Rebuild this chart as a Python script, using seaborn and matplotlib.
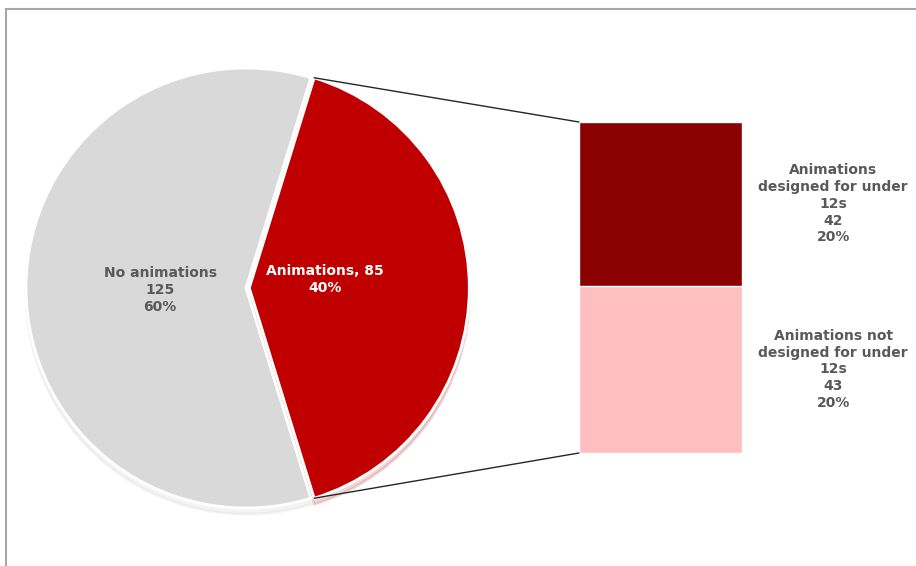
import matplotlib.pyplot as plt
import seaborn as sns
import pandas as pd
import numpy as np
from matplotlib.patches import ConnectionPatch, Rectangle

# pie data
pie_labels = ['No animations', 'Animations']
pie_values = [125, 85]
pie_colors = ['#d9d9d9', '#c00000']

# breakdown of the "Animations" slice
bar_labels = ['Animations\ndesigned for under\n12s', 'Animations not\ndesigned for under\n12s']
bar_values = [42, 43]
bar_colors = ['#8b0000', '#ffbfbf']

total = sum(pie_values)
text_color = '#595959'

sns.set_style('white')
plt.rcParams['font.family'] = ['DejaVu Sans']

W, H = 916, 566
fig = plt.figure(figsize=(W / 100, H / 100), dpi=100)
fig.patch.set_facecolor('white')

def px_box(x0, y0, x1, y1):
    return [x0 / W, 1 - y1 / H, (x1 - x0) / W, (y1 - y0) / H]

# chart frame (runs off right and bottom edge)
fig.add_artist(Rectangle((6 / W, -0.2), 1.2, 1.2 - 9 / H,
                         transform=fig.transFigure, fill=False,
                         edgecolor='#a6a6a6', lw=1.5, clip_on=False))

# ---- pie ----
ax1 = fig.add_axes(px_box(26, 68, 466, 508))
half = pie_values[1] / total * 180
# gray slice starts at the top edge of the red slice, red ends up centred on the right
wedges, _ = ax1.pie(pie_values, colors=pie_colors, startangle=half,
                    counterclock=True, explode=[0, 0.015],
                    wedgeprops=dict(edgecolor='white', linewidth=2),
                    shadow={'ox': 0.0, 'oy': -0.02, 'shade': 0.15, 'alpha': 0.15})
ax1.set_xlim(-1, 1)
ax1.set_ylim(-1, 1)
ax1.set_aspect('equal')

fs = 10
ax1.text(-0.39, -0.01, f'{pie_labels[0]}\n{pie_values[0]}\n{round(pie_values[0] / total * 100)}%',
         ha='center', va='center', fontsize=fs, fontweight='bold', color=text_color,
         linespacing=1.25)
ax1.text(0.36, 0.04, f'{pie_labels[1]}, {pie_values[1]}\n{round(pie_values[1] / total * 100)}%',
         ha='center', va='center', fontsize=fs, fontweight='bold', color='white',
         linespacing=1.25)

# ---- bar of pie ----
ax2 = fig.add_axes(px_box(579, 122, 742, 453))
df = pd.DataFrame({'part': ['x'], 'total': [sum(bar_values)], 'bottom': [bar_values[1]]})
sns.barplot(data=df, x='part', y='total', color=bar_colors[0], width=1,
            saturation=1, ax=ax2, edgecolor='white', linewidth=1)
sns.barplot(data=df, x='part', y='bottom', color=bar_colors[1], width=1,
            saturation=1, ax=ax2, edgecolor='white', linewidth=1)
ax2.set_xlim(-0.5, 0.5)
ax2.set_ylim(0, sum(bar_values))
ax2.axis('off')

mids = [bar_values[1] + bar_values[0] / 2, bar_values[1] / 2]
for lab, val, y in zip(bar_labels, bar_values, mids):
    ax2.text(1.06, y, f'{lab}\n{val}\n{round(val / total * 100)}%',
             ha='center', va='center', fontsize=fs, fontweight='bold',
             color=text_color, linespacing=1.25, clip_on=False)

# connector lines
theta = np.deg2rad(half)
for sign, ycorner in [(1, sum(bar_values)), (-1, 0)]:
    xy_pie = (np.cos(theta) + 0.015, sign * np.sin(theta))
    con = ConnectionPatch(xyA=(-0.5, ycorner), coordsA=ax2.transData,
                          xyB=xy_pie, coordsB=ax1.transData,
                          color='#262626', lw=1)
    fig.add_artist(con)

fig.savefig('out.png', dpi=100)
